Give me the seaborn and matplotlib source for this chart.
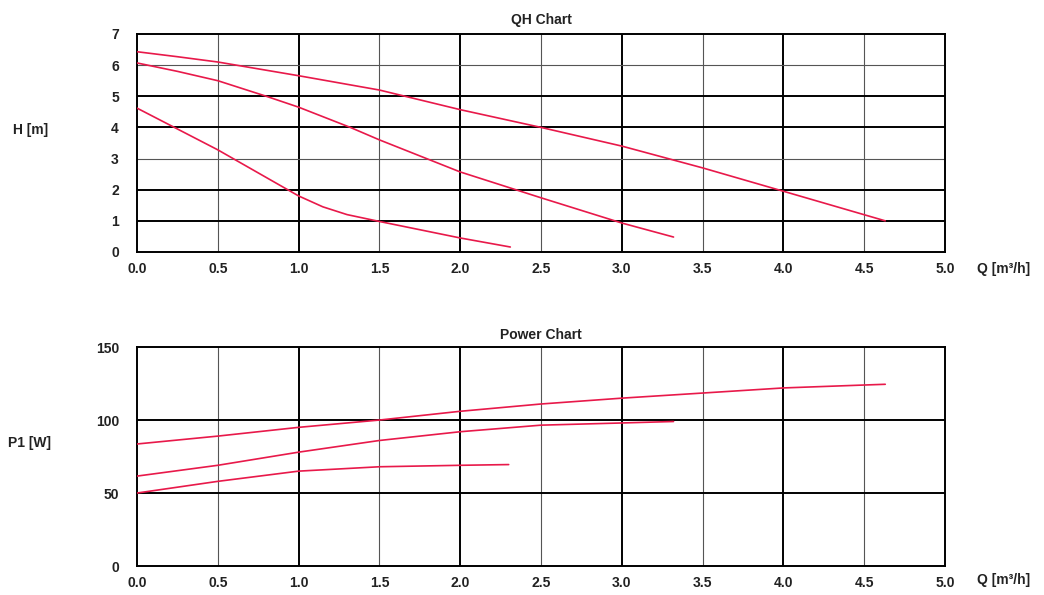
import numpy as np
import pandas as pd
import matplotlib
matplotlib.use("Agg")
import matplotlib.pyplot as plt
import seaborn as sns

# QH curves (flow Q in m3/h, head H in m)
q_high = [0.0, 0.25, 0.5, 1.0, 1.5, 2.0, 2.5, 3.0, 3.5, 4.0, 4.63]
h_high = [6.43, 6.27, 6.1, 5.66, 5.2, 4.57, 4.0, 3.4, 2.7, 1.95, 1.0]
q_mid = [0.0, 0.25, 0.5, 0.8, 1.0, 1.32, 1.5, 2.0, 2.5, 3.0, 3.32]
h_mid = [6.07, 5.8, 5.5, 5.0, 4.65, 4.0, 3.6, 2.57, 1.74, 0.93, 0.48]
q_low = [0.0, 0.5, 1.0, 1.15, 1.3, 1.5, 2.0, 2.31]
h_low = [4.62, 3.28, 1.8, 1.45, 1.2, 0.98, 0.45, 0.16]

# Power curves (P1 in W)
p_q_high = [0.0, 0.5, 1.0, 1.5, 2.0, 2.5, 3.0, 3.5, 4.0, 4.5, 4.63]
p_high = [83.6, 89, 95, 100, 106, 111, 115, 118.5, 122, 124, 124.5]
p_q_mid = [0.0, 0.5, 1.0, 1.5, 2.0, 2.5, 3.0, 3.32]
p_mid = [61.6, 69, 78, 86, 92, 96.5, 98, 99]
p_q_low = [0.0, 0.5, 1.0, 1.5, 2.0, 2.3]
p_low = [50, 58, 65, 68, 69, 69.5]

x_ticks = [0.0, 0.5, 1.0, 1.5, 2.0, 2.5, 3.0, 3.5, 4.0, 4.5, 5.0]
qh_y_ticks = [0, 1, 2, 3, 4, 5, 6, 7]
qh_thick = [1, 2, 4, 5]
pw_y_ticks = [0, 50, 100, 150]

RED = "#e8194a"

sns.set_theme(style="white")
plt.rcParams["font.family"] = ["Liberation Sans", "DejaVu Sans"]

fig = plt.figure(figsize=(10.44, 5.95), dpi=100)
ax1 = fig.add_axes([0.1312, 0.5765, 0.774, 0.3664])
ax2 = fig.add_axes([0.1312, 0.0487, 0.774, 0.368])


def style_axes(ax, yticks, ymax, thick_y):
    ax.set_xlim(0, 5)
    ax.set_ylim(0, ymax)
    for xv in x_ticks[1:-1]:
        if float(xv).is_integer():
            ax.axvline(xv, color="black", lw=1.4, zorder=1)
        else:
            ax.axvline(xv, color="#555555", lw=0.8, zorder=1)
    for yv in yticks[1:-1]:
        if yv in thick_y:
            ax.axhline(yv, color="black", lw=1.4, zorder=1)
        else:
            ax.axhline(yv, color="#555555", lw=0.8, zorder=1)
    ax.set_xticks(x_ticks)
    ax.set_xticklabels([f"{v:.1f}" for v in x_ticks])
    ax.set_yticks(yticks)
    ax.tick_params(axis="x", length=0, pad=7.5, labelsize=10)
    ax.tick_params(axis="y", length=0, pad=13, labelsize=10)
    for lab in ax.get_xticklabels() + ax.get_yticklabels():
        lab.set_fontweight("bold")
        lab.set_color("#222222")
    for sp in ax.spines.values():
        sp.set_color("black")
        sp.set_linewidth(1.4)
    ax.set_xlabel("")
    ax.set_ylabel("")


for qs, hs in [(q_high, h_high), (q_mid, h_mid), (q_low, h_low)]:
    df = pd.DataFrame({"Q": qs, "H": hs})
    sns.lineplot(data=df, x="Q", y="H", ax=ax1, color=RED, lw=1.2, zorder=3)

for qs, ps in [(p_q_high, p_high), (p_q_mid, p_mid), (p_q_low, p_low)]:
    df = pd.DataFrame({"Q": qs, "P": ps})
    sns.lineplot(data=df, x="Q", y="P", ax=ax2, color=RED, lw=1.2, zorder=3)

style_axes(ax1, qh_y_ticks, 7, qh_thick)
style_axes(ax2, pw_y_ticks, 150, [50, 100])

ax1.set_title("QH Chart", fontsize=10, fontweight="bold", color="#222222", pad=7)
ax2.set_title("Power Chart", fontsize=10, fontweight="bold", color="#222222", pad=6)

fig.text(0.0125, 0.782, "H [m]", fontsize=10, fontweight="bold", color="#222222", va="center")
fig.text(0.936, 0.548, "Q [m\u00b3/h]", fontsize=10, fontweight="bold", color="#222222", va="center")
fig.text(0.008, 0.256, "P1 [W]", fontsize=10, fontweight="bold", color="#222222", va="center")
fig.text(0.936, 0.025, "Q [m\u00b3/h]", fontsize=10, fontweight="bold", color="#222222", va="center")

fig.savefig("out.png", dpi=100)
